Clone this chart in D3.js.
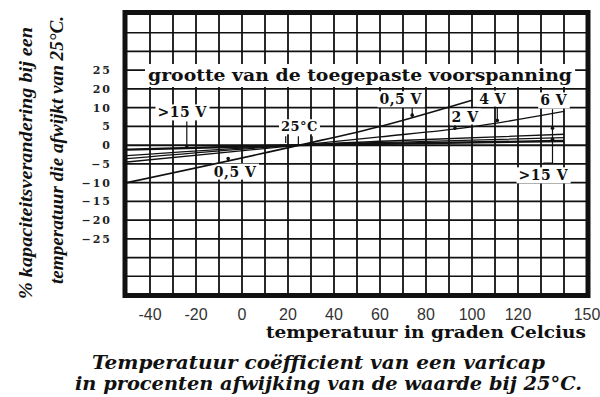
<!DOCTYPE html>
<html>
<head>
<meta charset="utf-8">
<script src="https://cdn.jsdelivr.net/npm/d3@7"></script>
<style>
  body { margin: 0; background: #fff; }
  svg { display: block; }
</style>
</head>
<body>
<div id="chart-area"></div>
<script>
// data (temperature in degC, change in %)
const tempTicks = [-40, -20, 0, 20, 40, 60, 80, 100, 120, 150];
const pctTicks = [20, 15, 10, 5, 0, -5, -10, -15, -20, -25];
const pctTickLabels = ['25', '20', '10', '5', '0', '\u22125', '\u221210', '\u221215', '\u221220', '\u221225'];

const curve05 = [[-50, -10], [25, 0], [60, 5], [100, 12]];
const curve2 = [[-50, -4.5], [25, 0], [60, 2.2], [99, 4.8], [140, 9.0]];
const curve4 = [[-50, -3.6], [25, 0], [80, 1.5], [140, 2.9]];
const curve6 = [[-50, -2.8], [25, 0], [80, 1.0], [140, 2.0]];
const curve15 = [[-50, -1.2], [25, 0], [140, 1.1]];
const curves = [curve05, curve2, curve4, curve6, curve15];
const curveWidths = [1.6, 1.4, 1.3, 1.3, 2.4];

// labels on the curves: text, temperature, percent
const labelTexts = ['>15 V', '0,5 V', '25°C', '0,5 V', '2 V', '4 V', '6 V', '>15 V'];
const labelTemps = [-26, -3, 25, 69, 97, 109, 135.5, 131];
const labelPcts = [7.4, -8.4, 3.7, 10.9, 6.3, 11.1, 10.6, -9.4];

// leader lines: temperature, from %, to %
const leaders = [[-24, 6.3, -0.5], [-6, -3.3, -4.5], [74, 9.9, 7.5], [92.6, 5.3, 4.2],
                 [111, 10.0, 6.6], [135, 9.6, -4.8], [19, 2.4, 0.6], [24.5, 2.4, 0.2], [30.5, 2.4, 0.6]];
const leaderDots = [[-24, -0.5], [-6, -3.6], [74, 8.0], [92.6, 4.5], [111, 6.6], [135, 4.5], [135, 1.6]];

const W = 600, H = 397;

const svg = d3.select('#chart-area')
    .append('svg')
        .attr('width', W)
        .attr('height', H);

const x = d3.scaleLinear().domain([-50, 150]).range([127, 587]);
const y = d3.scaleLinear().domain([-40, 35]).range([295, 14]);

const ink = '#111';
const serif = '"DejaVu Serif", "Liberation Serif", serif';
const times = '"Liberation Serif", "DejaVu Serif", serif';

// grid
const grid = svg.append('g');
grid.selectAll('line.v')
    .data(d3.range(-40, 150, 10))
    .enter().append('line')
        .attr('x1', d => x(d)).attr('x2', d => x(d))
        .attr('y1', y(35)).attr('y2', y(-40))
        .attr('stroke', ink).attr('stroke-width', 1.8);
grid.selectAll('line.h')
    .data(d3.range(-35, 35, 5))
    .enter().append('line')
        .attr('x1', x(-50)).attr('x2', x(150))
        .attr('y1', d => y(d)).attr('y2', d => y(d))
        .attr('stroke', ink).attr('stroke-width', d => d === 0 ? 2 : 1.7);

// title inside the plot, on a white band
const inner = svg.append('text')
    .attr('x', 148).attr('y', 81)
    .attr('font-family', serif).attr('font-weight', 'bold').attr('font-size', '17px')
    .attr('textLength', 424).attr('lengthAdjust', 'spacingAndGlyphs')
    .attr('fill', ink)
    .text('grootte van de toegepaste voorspanning');
const ib = inner.node().getBBox();
svg.insert('rect', 'text')
    .attr('x', ib.x - 3).attr('y', ib.y - 1)
    .attr('width', ib.width + 6).attr('height', ib.height + 3)
    .attr('fill', '#fff');

// curve labels with white boxes
const labels = svg.append('g');
labelTexts.forEach((t, i) => {
    const txt = labels.append('text')
        .attr('x', x(labelTemps[i])).attr('y', y(labelPcts[i]))
        .attr('text-anchor', 'middle')
        .attr('font-family', serif).attr('font-weight', 'bold')
        .attr('font-size', t === '25°C' ? '13px' : '14px')
        .attr('letter-spacing', '0.5px')
        .attr('fill', ink)
        .text(t);
    const b = txt.node().getBBox();
    labels.insert('rect', 'text')
        .attr('x', b.x - 2).attr('y', b.y)
        .attr('width', b.width + 4).attr('height', b.height)
        .attr('fill', '#fff');
});

// curves
const line = d3.line()
    .x(d => x(d[0]))
    .y(d => y(d[1]))
    .curve(d3.curveMonotoneX);
svg.append('g').selectAll('path')
    .data(curves)
    .enter().append('path')
        .attr('d', line)
        .attr('fill', 'none')
        .attr('stroke', ink)
        .attr('stroke-width', (d, i) => curveWidths[i]);

// leaders
svg.append('g').selectAll('line')
    .data(leaders)
    .enter().append('line')
        .attr('x1', d => x(d[0])).attr('x2', d => x(d[0]))
        .attr('y1', d => y(d[1])).attr('y2', d => y(d[2]))
        .attr('stroke', ink).attr('stroke-width', 1.2);
svg.append('g').selectAll('circle')
    .data(leaderDots)
    .enter().append('circle')
        .attr('cx', d => x(d[0])).attr('cy', d => y(d[1]))
        .attr('r', 1.8).attr('fill', ink);
// small foot of the right >15 V leader
svg.append('line')
    .attr('x1', x(131)).attr('x2', x(135))
    .attr('y1', y(-4.8)).attr('y2', y(-4.8))
    .attr('stroke', ink).attr('stroke-width', 1.2);

// frame
svg.append('rect')
    .attr('x', x(-50) - 2).attr('y', y(35) - 1.5)
    .attr('width', x(150) - x(-50) + 3).attr('height', y(-40) - y(35) + 2)
    .attr('fill', 'none').attr('stroke', ink).attr('stroke-width', 5);

// y tick labels
svg.append('g').selectAll('text')
    .data(pctTicks)
    .enter().append('text')
        .attr('x', 112)
        .attr('y', d => y(d) + 4)
        .attr('text-anchor', 'end')
        .attr('font-family', serif).attr('font-weight', 'bold').attr('font-size', '11px')
        .attr('letter-spacing', '2px')
        .attr('fill', '#222')
        .text((d, i) => pctTickLabels[i]);

// x tick labels
svg.append('g').selectAll('text')
    .data(tempTicks)
    .enter().append('text')
        .attr('x', d => x(d))
        .attr('y', 320)
        .attr('text-anchor', 'middle')
        .attr('font-family', '"Liberation Sans Narrow", "Liberation Sans", sans-serif')
        .attr('font-size', '16px')
        .attr('fill', '#333')
        .text(d => d < 0 ? '-' + Math.abs(d) : d);

// axis titles
svg.append('text')
    .attr('x', 266).attr('y', 338)
    .attr('font-family', serif).attr('font-weight', 'bold').attr('font-size', '16px')
    .attr('textLength', 320).attr('lengthAdjust', 'spacingAndGlyphs')
    .attr('fill', ink)
    .text('temperatuur in graden Celcius');

svg.append('text')
    .attr('transform', 'translate(32, 299) rotate(-90)')
    .attr('font-family', times).attr('font-weight', 'bold').attr('font-style', 'italic')
    .attr('font-size', '19px')
    .attr('textLength', 272).attr('lengthAdjust', 'spacingAndGlyphs')
    .attr('fill', ink)
    .text('% kapaciteitsverandering bij een');
svg.append('text')
    .attr('transform', 'translate(63, 284) rotate(-90)')
    .attr('font-family', times).attr('font-weight', 'bold').attr('font-style', 'italic')
    .attr('font-size', '19px')
    .attr('textLength', 268).attr('lengthAdjust', 'spacingAndGlyphs')
    .attr('fill', ink)
    .text('temperatuur die afwijkt van 25°C.');

// caption
svg.append('text')
    .attr('x', 92).attr('y', 369)
    .attr('font-family', serif).attr('font-weight', 'bold').attr('font-style', 'italic')
    .attr('font-size', '18px')
    .attr('textLength', 453).attr('lengthAdjust', 'spacingAndGlyphs')
    .attr('fill', ink)
    .text('Temperatuur coëfficient van een varicap');
svg.append('text')
    .attr('x', 75).attr('y', 390)
    .attr('font-family', serif).attr('font-weight', 'bold').attr('font-style', 'italic')
    .attr('font-size', '18px')
    .attr('textLength', 507).attr('lengthAdjust', 'spacingAndGlyphs')
    .attr('fill', ink)
    .text('in procenten afwijking van de waarde bij 25°C.');
</script>
</body>
</html>
